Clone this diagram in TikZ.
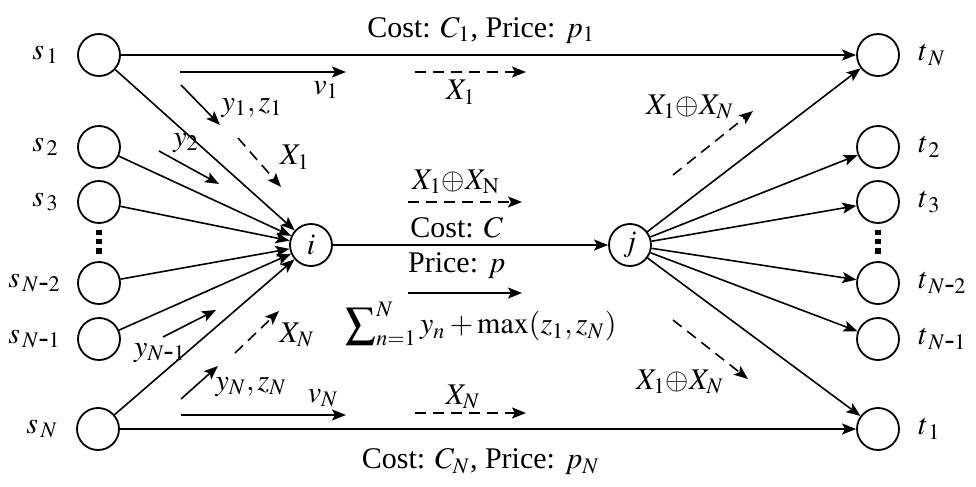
\documentclass[tikz,border=0pt]{standalone}
\usepackage{mathptmx}
\usepackage[no-math]{fontspec}
\setmainfont{Liberation Serif}
\usetikzlibrary{arrows.meta}

\begin{document}
\begin{tikzpicture}[
    x=0.5pt, y=-0.5pt,
    font=\fontsize{15}{17}\selectfont,
    nd/.style={circle, draw=black, line width=0.9pt, minimum size=21pt, inner sep=0pt, fill=white},
    lbl/.style={inner sep=1pt},
    arr/.style={-{Stealth[length=7pt, width=5.5pt, inset=1.5pt]}, line width=0.8pt},
    flow/.style={arr, dash pattern=on 5.5pt off 3.5pt},
    vdots/.style={line width=2.6pt, dash pattern=on 2.6pt off 2pt}
]
    \useasboundingbox (0,0) rectangle (976,487);

    % Sources
    \node[nd, label={[lbl, label distance=8pt]left:$s_{\,1}$}] (s1) at (99,55) {};
    \node[nd, label={[lbl, label distance=8pt]left:$s_{\,2}$}] (s2) at (99,147) {};
    \node[nd, label={[lbl, label distance=8pt]left:$s_{\,3}$}] (s3) at (99,202) {};
    \node[nd, label={[lbl, label distance=7pt]left:$s_{\,N\mbox{-}2}$}] (sN2) at (99,283) {};
    \node[nd, label={[lbl, label distance=7pt]left:$s_{\,N\mbox{-}1}$}] (sN1) at (99,339) {};
    \node[nd, label={[lbl, label distance=8pt]left:$s_{\,N}$}] (sN) at (98,429) {};

    % Relay nodes
    \node[nd] (i) at (311,245) {$i$};
    \node[nd] (j) at (630,245) {$j$};

    % Sinks
    \node[nd, label={[lbl, label distance=8pt]right:$t_{\,N}$}] (tN) at (878,55) {};
    \node[nd, label={[lbl, label distance=8pt]right:$t_{\,2}$}] (t2) at (878,147) {};
    \node[nd, label={[lbl, label distance=8pt]right:$t_{\,3}$}] (t3) at (878,202) {};
    \node[nd, label={[lbl, label distance=8pt]right:$t_{\,N\mbox{-}2}$}] (tN2) at (878,283) {};
    \node[nd, label={[lbl, label distance=8pt]right:$t_{\,N\mbox{-}1}$}] (tN1) at (878,339) {};
    \node[nd, label={[lbl, label distance=8pt]right:$t_{\,1}$}] (t1) at (878,429) {};

    \draw[vdots] ([yshift=-3pt]s3.south) -- ([yshift=3pt]sN2.north);
    \draw[vdots] ([yshift=-3pt]t3.south) -- ([yshift=3pt]tN2.north);

    % Direct links
    \draw[arr] (s1) -- node[pos=0.49, above=2pt] {Cost: $C_1$, Price: $p_1$} (tN);
    \draw[arr] (sN) -- node[pos=0.49, below=6pt] {Cost: $C_N$, Price: $p_N$} (t1);

    % Into i
    \foreach \s in {s1,s2,s3,sN2,sN1,sN}
        \draw[arr] (\s) -- (i);

    % Relay link
    \draw[arr] (i) -- node[pos=0.45, above] {Cost: $C$} node[pos=0.45, below] {Price: $p$} (j);

    % Out of j
    \foreach \t in {tN,t2,t3,tN2,tN1,t1}
        \draw[arr] (j) -- (\t);

    % Flow markers
    \coordinate (v1a) at (180,72);   \coordinate (v1b) at (346,72);
    \coordinate (X1a) at (415,72);   \coordinate (X1b) at (526,72);
    \coordinate (yz1a) at (181,85);  \coordinate (yz1b) at (220,125);
    \coordinate (dX1a) at (238,138); \coordinate (dX1b) at (281,187);
    \coordinate (y2a) at (159,151);  \coordinate (y2b) at (219,184);
    \coordinate (yN1a) at (163,337); \coordinate (yN1b) at (216,310);
    \coordinate (dXNa) at (235,353); \coordinate (dXNb) at (279,311);
    \coordinate (yzNa) at (181,399); \coordinate (yzNb) at (218,366);
    \coordinate (vNa) at (181,415);  \coordinate (vNb) at (346,415);
    \coordinate (XNa) at (415,413);  \coordinate (XNb) at (526,413);
    \coordinate (cXa) at (408,202);  \coordinate (cXb) at (522,202);
    \coordinate (cya) at (408,293);  \coordinate (cyb) at (522,293);
    \coordinate (rXa) at (673,175);  \coordinate (rXb) at (753,111);
    \coordinate (rXc) at (673,320);  \coordinate (rXd) at (748,379);

    \draw[arr] (v1a) -- (v1b);
    \draw[flow] (X1a) -- (X1b);
    \draw[arr] (yz1a) -- (yz1b);
    \draw[flow] (dX1a) -- (dX1b);
    \draw[arr] (y2a) -- (y2b);
    \draw[arr] (yN1a) -- (yN1b);
    \draw[flow] (dXNa) -- (dXNb);
    \draw[arr] (yzNa) -- (yzNb);
    \draw[arr] (vNa) -- (vNb);
    \draw[flow] (XNa) -- (XNb);
    \draw[flow] (cXa) -- (cXb);
    \draw[arr] (cya) -- (cyb);
    \draw[flow] (rXa) -- (rXb);
    \draw[flow] (rXc) -- (rXd);

    % Flow labels
    \node (lv1) at (326,90) {$v_1$};
    \node (lX1) at (461,92) {$X_1$};
    \node (lyz1) at (252,108) {$y_1, z_1$};
    \node (ldX1) at (295,157) {$X_1$};
    \node (ly2) at (186,143) {$y_2$};
    \node (lyN1) at (160,353) {$y_{N\mbox{-}1}$};
    \node (ldXN) at (297,335) {$X_N$};
    \node (lyzN) at (251,387) {$y_N, z_N$};
    \node (lvN) at (323,398) {$v_N$};
    \node (lXN) at (463,397) {$X_N$};
    \node (lcX) at (456,182) {$X_1{\oplus}X_\mathrm{N}$};
    \node (lsum) at (481,324) {$\displaystyle\sum\nolimits_{n=1}^{N} y_n + \max(z_1, z_N)$};
    \node (lrX1) at (690,107) {$X_1{\oplus}X_N$};
    \node (lrX2) at (680,382) {$X_1{\oplus}X_N$};
\end{tikzpicture}
\end{document}
